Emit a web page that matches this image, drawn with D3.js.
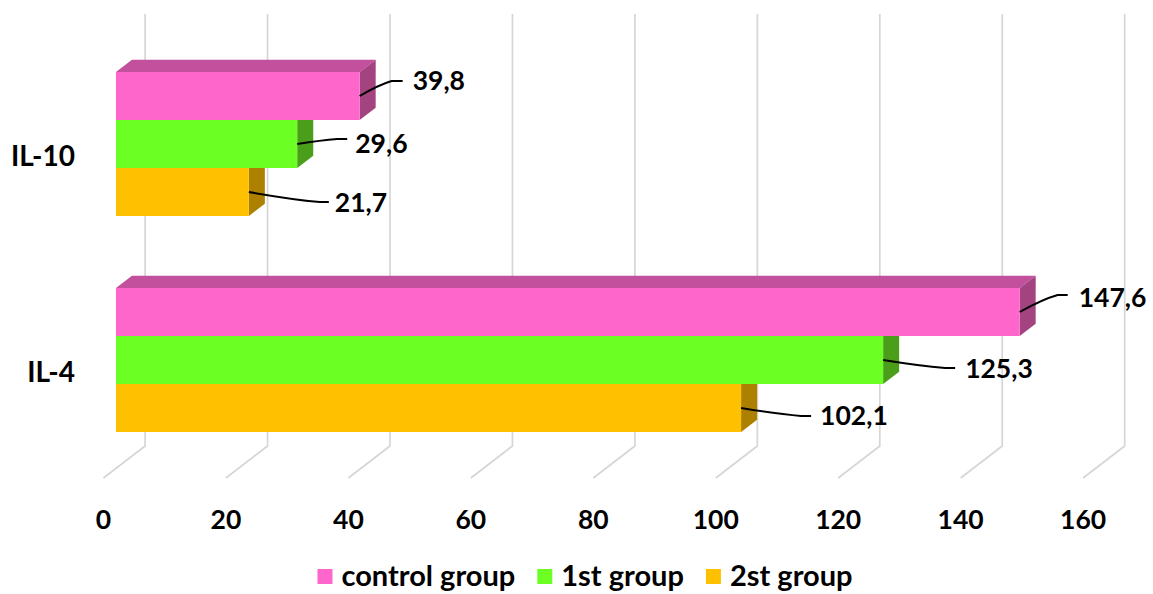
<!DOCTYPE html>
<html>
<head>
<meta charset="utf-8">
<script src="https://cdn.jsdelivr.net/npm/d3@7"></script>
<style>
  body { margin: 0; background: #ffffff; }
  text { font-family: Lato, "Open Sans", "DejaVu Sans", sans-serif; font-weight: 700; fill: #000; }
</style>
</head>
<body>
<svg id="chart" width="1153" height="594"></svg>
<script>
// ---- data ----
const categories = ["IL-10", "IL-4"];
const seriesNames = ["control group", "1st group", "2st group"];
const controlGroup = [39.8, 147.6];
const firstGroup = [29.6, 125.3];
const secondGroup = [21.7, 102.1];
const xTicks = [0, 20, 40, 60, 80, 100, 120, 140, 160];

const seriesValues = [controlGroup, firstGroup, secondGroup];

// ---- styling ----
const faceColors = [
  { front: "#FF66CC", top: "#C2509C", side: "#A3437F" },
  { front: "#6BFF24", top: "#52C21B", side: "#4A9E1A" },
  { front: "#FFC000", top: "#C29200", side: "#AD8000" }
];
const numberSize = 26.5, categorySize = 28, legendSize = 29;

// leader line geometry per [category][series]: elbow, line end and text start,
// relative to the bar's front-right anchor point
const labelOffsets = [
  [ { ex: 32, ey: -15, lx: 43, tx: 53, ty: -16 },
    { ex: 40, ey: -5,  lx: 50, tx: 58, ty: -1 },
    { ex: 71, ey: 10,  lx: 80, tx: 86, ty: 10 } ],
  [ { ex: 38, ey: -17, lx: 48, tx: 59, ty: -15 },
    { ex: 62, ey: 8,   lx: 72, tx: 82, ty: 8 },
    { ex: 60, ey: 8,   lx: 70, tx: 79, ty: 7 } ]
];

// ---- 3D projection ----
const DX = 41.6, DY = -32;          // full depth offset of the floor
const barDepth0 = 0.30, barDepth1 = 0.685;
const floorFrontY = 478, floorBackY = floorFrontY + DY, wallTopY = 14;

const svg = d3.select("#chart");

// value scale on the front edge of the floor
const x = d3.scaleLinear().domain([0, 160]).range([103.5, 103.5 + 8 * 122.45]);
// category bands in the plane of the bars' front faces
const y = d3.scaleBand().domain(categories).range([36, 468]).paddingInner(1 / 3).paddingOuter(1 / 6);
const ySeries = d3.scaleBand().domain(seriesNames).range([0, y.bandwidth()]);

const frontX = v => x(v) + barDepth0 * DX;
const ddx = (barDepth1 - barDepth0) * DX, ddy = (barDepth1 - barDepth0) * DY;

// ---- back wall and floor gridlines ----
const grid = svg.append("g");
xTicks.forEach(t => {
  const bx = x(t) + DX;
  grid.append("path")
    .attr("d", `M${bx},${wallTopY}L${bx},${floorBackY}L${x(t)},${floorFrontY}`)
    .attr("fill", "none").attr("stroke", "#D6D6D6").attr("stroke-width", 1.7);
});

// ---- bars (bottom bar first so upper front faces cover hidden faces) ----
const bars = svg.append("g");
categories.forEach((cat, ci) => {
  for (let si = seriesNames.length - 1; si >= 0; si--) {
    const v = seriesValues[si][ci];
    const x0 = frontX(0), x1 = frontX(v);
    const y0 = y(cat) + ySeries(seriesNames[si]);
    const h = ySeries.bandwidth();
    const c = faceColors[si];
    bars.append("path")
      .attr("d", `M${x0},${y0}L${x0 + ddx},${y0 + ddy}L${x1 + ddx},${y0 + ddy}L${x1},${y0}Z`)
      .attr("fill", c.top);
    bars.append("path")
      .attr("d", `M${x1},${y0}L${x1 + ddx},${y0 + ddy}L${x1 + ddx},${y0 + h + ddy}L${x1},${y0 + h}Z`)
      .attr("fill", c.side);
    bars.append("rect")
      .attr("x", x0).attr("y", y0).attr("width", x1 - x0).attr("height", h)
      .attr("fill", c.front);
  }
});

// ---- data labels with leader lines ----
const labels = svg.append("g");
categories.forEach((cat, ci) => {
  seriesNames.forEach((s, si) => {
    const v = seriesValues[si][ci];
    const ax = frontX(v);
    const ay = y(cat) + ySeries(s) + ySeries.bandwidth() / 2;
    const o = labelOffsets[ci][si];
    labels.append("path")
      .attr("d", `M${ax},${ay}Q${ax + o.ex * 0.6},${ay + o.ey * 0.75} ${ax + o.ex},${ay + o.ey}L${ax + o.lx},${ay + o.ey}`)
      .attr("fill", "none").attr("stroke", "#000").attr("stroke-width", 2);
    labels.append("text")
      .attr("x", ax + o.tx).attr("y", ay + o.ty + numberSize * 0.36)
      .attr("font-size", numberSize)
      .text(d3.format(".1f")(v).replace(".", ","));
  });
});

// ---- category labels ----
categories.forEach(cat => {
  svg.append("text")
    .attr("x", 75).attr("y", y(cat) + y.bandwidth() / 2 + 12 + categorySize * 0.36)
    .attr("text-anchor", "end").attr("font-size", categorySize)
    .text(cat);
});

// ---- value axis labels ----
xTicks.forEach(t => {
  svg.append("text")
    .attr("x", x(t)).attr("y", 519 + numberSize * 0.36)
    .attr("text-anchor", "middle").attr("font-size", numberSize)
    .text(t);
});

// ---- legend ----
const legend = svg.append("g");
let lx = 0;
seriesNames.forEach((s, si) => {
  const g = legend.append("g").attr("transform", `translate(${lx},0)`);
  g.append("rect").attr("x", 0).attr("y", -7).attr("width", 15).attr("height", 15)
    .attr("fill", faceColors[si].front);
  const t = g.append("text").attr("x", 24).attr("y", 9.5)
    .attr("font-size", legendSize).text(s);
  lx += 24 + t.node().getComputedTextLength() + 22;
});
const legendWidth = lx - 22;
legend.attr("transform", `translate(${585 - legendWidth / 2},576)`);
</script>
</body>
</html>
